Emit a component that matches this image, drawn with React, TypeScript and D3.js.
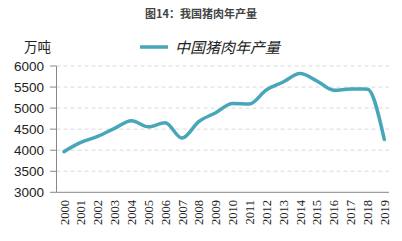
import React from "react";
import * as d3 from "d3";

const years = ["2000","2001","2002","2003","2004","2005","2006","2007","2008","2009","2010","2011","2012","2013","2014","2015","2016","2017","2018","2019"];
const production = [3966, 4184, 4327, 4518, 4701, 4555, 4650, 4288, 4682, 4891, 5110, 5100, 5430, 5619, 5821, 5645, 5425, 5452, 5450, 4255];
const yTicks = [3000, 3500, 4000, 4500, 5000, 5500, 6000];

const W = 402, H = 241;
const left = 56.5, top = 66, bottom = 192.3;

export default function App() {
  const x = d3.scalePoint<string>().domain(years).range([64, 384.3]);
  const y = d3.scaleLinear().domain([3000, 6000]).range([bottom, top]);
  const line = d3.line<number>()
    .x((_, i) => x(years[i])!)
    .y((d) => y(d))
    .curve(d3.curveMonotoneX);
  const color = "#47a7b9";
  return (
    <svg width={W} height={H} style={{ position: "absolute", left: 0, top: 0, background: "#fff" }}>
      <text x={201} y={18} textAnchor="middle" fontFamily="'Noto Sans CJK SC', sans-serif" fontWeight="bold" fontSize={11} fill="#444">图14：我国猪肉年产量</text>
      <text x={24} y={52} fontFamily="'Noto Sans CJK SC', sans-serif" fontSize={13.5} fill="#222">万吨</text>
      <line x1={140} x2={168} y1={47} y2={47} stroke={color} strokeWidth={3.5} />
      <text x={175} y={52.5} fontFamily="'Noto Sans CJK SC', sans-serif" fontStyle="italic" fontSize={15} fill="#222">中国猪肉年产量</text>
      {yTicks.map((t) => (
        <g key={t}>
          {t > 3000 && (
            <line x1={left} x2={389} y1={y(t)} y2={y(t)} stroke="#d9d9d9" strokeWidth={1} strokeDasharray="4,3" />
          )}
          <line x1={50} x2={left} y1={y(t)} y2={y(t)} stroke="#888" strokeWidth={1} />
          <text x={44} y={y(t) + 4.5} textAnchor="end" fontFamily="'Liberation Sans', Arial, sans-serif" fontSize={13.5} fill="#222">{t}</text>
        </g>
      ))}
      <line x1={left} x2={left} y1={top} y2={bottom} stroke="#888" strokeWidth={1} />
      <line x1={left} x2={389} y1={bottom} y2={bottom} stroke="#888" strokeWidth={1} />
      {years.map((yr) => (
        <text key={yr} transform={`translate(${x(yr)! + 4.5},${200}) rotate(-90)`} textAnchor="end" fontFamily="'Liberation Serif', 'Times New Roman', serif" fontSize={12.5} fill="#222">{yr}</text>
      ))}
      <path d={line(production)!} fill="none" stroke={color} strokeWidth={3.5} strokeLinejoin="round" strokeLinecap="round" />
    </svg>
  );
}
